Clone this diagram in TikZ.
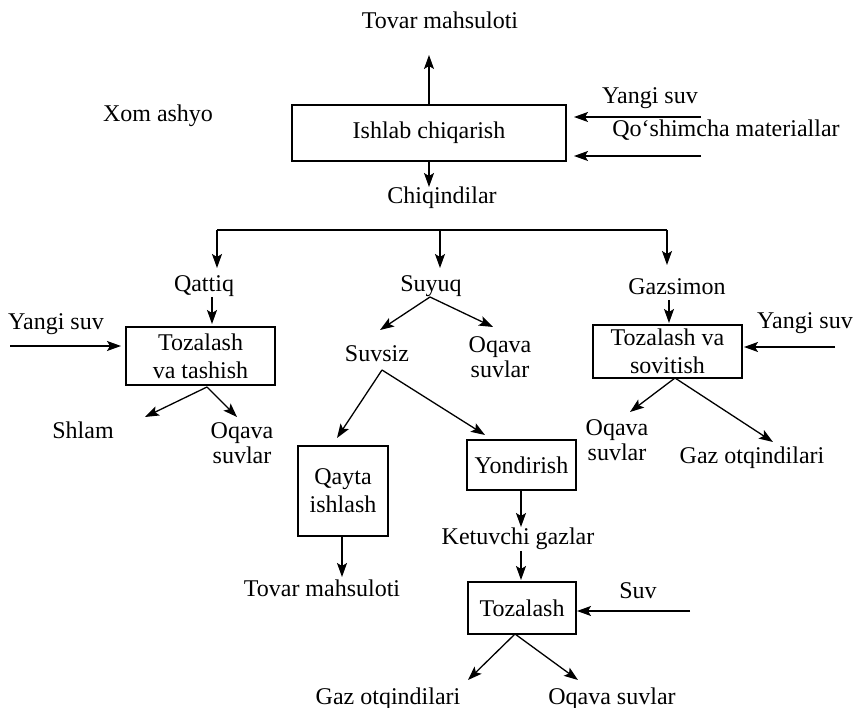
\documentclass[tikz,border=0pt]{standalone}
\usepackage{fontspec}
\setmainfont{Liberation Serif}
\usetikzlibrary{arrows.meta}
\begin{document}
\begin{tikzpicture}[x=1pt,y=-1pt,
  txt/.style={font=\fontsize{24}{26}\selectfont, inner sep=0pt, text height=17pt, text depth=5pt, anchor=center},
  txtt/.style={font=\fontsize{24}{25}\selectfont, inner sep=0pt, align=center, anchor=center},
  box/.style={draw, line width=1.4pt, font=\fontsize{24}{28}\selectfont, align=center, inner sep=0pt, anchor=center},
  arr/.style={line width=1.3pt, -{Stealth[length=14pt,width=10pt,inset=3pt]}},
  bar/.style={line width=1.3pt}]
\useasboundingbox (0,0) rectangle (855,708);

% ---- top level
\node[txt] (tovarA) at (440,23) {Tovar mahsuloti};
\node[txt] (xom) at (158,116) {Xom ashyo};
\node[box, minimum width=274pt, minimum height=56pt] (ishlab) at (429,133) {Ishlab chiqarish};
\node[txt] (yangiA) at (650,98) {Yangi suv};
\node[txt] (qosh) at (726,131) {Qo‘shimcha materiallar};
\node[txt] (chiq) at (442,198) {Chiqindilar};

\coordinate (upTip) at (429,55);
\coordinate (yAs) at (701,117);
\coordinate (yAe) at (574,117);
\coordinate (qBs) at (701,156);
\coordinate (qBe) at (574,156);
\coordinate (downTip) at (429,187);
\draw[arr] (ishlab.north) -- (upTip);
\draw[arr] (yAs) -- (yAe);
\draw[arr] (qBs) -- (qBe);
\draw[arr] (ishlab.south) -- (downTip);

% ---- branching bar
\coordinate (barL) at (217,230);
\coordinate (barM) at (440,230);
\coordinate (barR) at (667,230);
\coordinate (tipL) at (217,268);
\coordinate (tipM) at (440,268);
\coordinate (tipR) at (667,265);
\draw[bar] (barL) -- (barR);
\draw[arr] (barL) -- (tipL);
\draw[arr] (barM) -- (tipM);
\draw[arr] (barR) -- (tipR);

\node[txt] (qattiq) at (204,286) {Qattiq};
\node[txt] (suyuq) at (431,286) {Suyuq};
\node[txt] (gazsimon) at (677,289) {Gazsimon};

% ---- left branch
\node[box, minimum width=149pt, minimum height=58pt] (tt) at (200.5,356) {Tozalash\\va tashish};
\node[txt] (yangiB) at (56,324) {Yangi suv};
\node[txt] (shlam) at (83,433) {Shlam};
\node[txtt] (oqL) at (242,443) {Oqava\\suvlar};
\coordinate (qtS) at (212,297);
\coordinate (qtE) at (212,324);
\coordinate (yBs) at (10,346);
\coordinate (yBe) at (121,346);
\coordinate (ttB) at (207,387);
\coordinate (shT) at (145,417);
\coordinate (oqLT) at (237,417);
\draw[arr] (qtS) -- (qtE);
\draw[arr] (yBs) -- (yBe);
\draw[arr] (ttB) -- (shT);
\draw[arr] (ttB) -- (oqLT);

% ---- middle branch
\node[txt] (suvsiz) at (377,356) {Suvsiz};
\node[txtt] (oqM) at (500,357) {Oqava\\suvlar};
\coordinate (suS) at (430,297);
\coordinate (suvsizT) at (380,330);
\coordinate (oqMT) at (493,327);
\draw[arr] (suS) -- (suvsizT);
\draw[arr] (suS) -- (oqMT);

\node[box, minimum width=90pt, minimum height=90pt] (qayta) at (343,491) {Qayta\\ishlash};
\node[box, minimum width=109pt, minimum height=50pt] (yond) at (521.5,465) {Yondirish};
\coordinate (svS) at (382,370);
\coordinate (qaT) at (337,438);
\coordinate (yoT) at (485,435);
\draw[arr] (svS) -- (qaT);
\draw[arr] (svS) -- (yoT);

\node[txt] (tovarB) at (322,591) {Tovar mahsuloti};
\coordinate (qaB) at (342,536);
\coordinate (tvT) at (342,577);
\draw[arr] (qaB) -- (tvT);

\node[txt] (ketuv) at (518,539) {Ketuvchi gazlar};
\coordinate (yoB) at (521,490);
\coordinate (keT) at (521,527);
\coordinate (keB) at (521,551);
\coordinate (tzT) at (521,580);
\draw[arr] (yoB) -- (keT);
\draw[arr] (keB) -- (tzT);

\node[box, minimum width=108pt, minimum height=52pt] (toz) at (522,608) {Tozalash};
\node[txt] (suv) at (638,593) {Suv};
\coordinate (suvS) at (690,611);
\coordinate (suvE) at (577,611);
\draw[arr] (suvS) -- (suvE);

\node[txt] (gazB) at (388,698) {Gaz otqindilari};
\node[txt] (oqB) at (612,698) {Oqava suvlar};
\coordinate (tzB) at (515,634);
\coordinate (gzT) at (468,680);
\coordinate (oqBT) at (578,680);
\draw[arr] (tzB) -- (gzT);
\draw[arr] (tzB) -- (oqBT);

% ---- right branch
\node[box, minimum width=149pt, minimum height=53pt] (ts) at (667.5,351.5) {Tozalash va\\sovitish};
\node[txt] (yangiC) at (805,323) {Yangi suv};
\node[txtt] (oqR) at (617,440) {Oqava\\suvlar};
\node[txt] (gazR) at (752,458) {Gaz otqindilari};
\coordinate (gsS) at (669,300);
\coordinate (gsE) at (669,323);
\coordinate (yCs) at (835,347);
\coordinate (yCe) at (744,347);
\coordinate (tsB) at (675,378);
\coordinate (oqRT) at (630,412);
\coordinate (gzRT) at (773,442);
\draw[arr] (gsS) -- (gsE);
\draw[arr] (yCs) -- (yCe);
\draw[arr] (tsB) -- (oqRT);
\draw[arr] (tsB) -- (gzRT);
\end{tikzpicture}
\end{document}
